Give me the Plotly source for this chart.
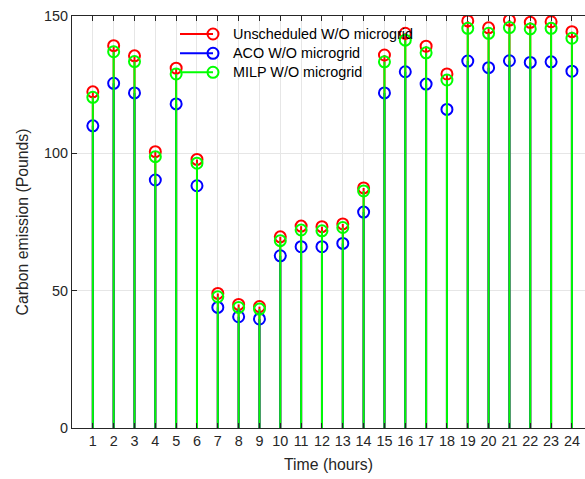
import plotly.graph_objects as go

hours = list(range(1, 25))
unscheduled = [122.4, 139.2, 135.5, 100.6, 131.0, 97.8, 49.0, 45.0, 44.2, 69.6, 73.5, 73.3,
               74.3, 87.4, 135.8, 143.7, 139.0, 128.9, 148.2, 145.7, 148.5, 147.7, 147.9, 144.3]
aco = [110.0, 125.5, 122.0, 90.3, 118.0, 88.2, 43.9, 40.5, 39.7, 62.7, 66.0, 66.0,
       67.2, 78.6, 122.0, 129.7, 125.2, 116.0, 133.6, 131.2, 133.7, 133.1, 133.3, 129.9]
milp = [120.4, 137.0, 133.4, 98.8, 128.9, 96.4, 47.8, 43.9, 43.3, 68.2, 72.1, 71.8,
        73.0, 86.3, 133.3, 141.2, 136.6, 126.7, 145.5, 143.7, 145.8, 145.3, 145.5, 141.9]

series = [
    ("Unscheduled W/O microgrid", unscheduled, "#ff0000"),
    ("ACO W/O microgrid", aco, "#0000ff"),
    ("MILP W/O microgrid", milp, "#00ff00"),
]

FONT = "Liberation Sans, Arial, Helvetica, sans-serif"

fig = go.Figure()
for name, vals, col in series:
    sx, sy = [], []
    for h, v in zip(hours, vals):
        sx += [h, h, None]
        sy += [0, v, None]
    fig.add_trace(go.Scatter(x=sx, y=sy, mode="lines", line=dict(color=col, width=2),
                             showlegend=False, hoverinfo="skip"))
    fig.add_trace(go.Scatter(x=hours, y=vals, mode="markers", name=name,
                             marker=dict(symbol="circle-open", size=11, color=col,
                                         line=dict(color=col, width=2)),
                             showlegend=False))

# MATLAB-style legend (line with marker at the end), no box
L, T, W, H = 72, 16, 513, 412
def px(xp):
    return (xp - L) / W
def py(yp):
    return (T + H - yp) / H

rows = [34, 53.3, 72.3]
shapes = []
annotations = []
for (name, vals, col), ry in zip(series, rows):
    shapes.append(dict(type="line", xref="paper", yref="paper",
                       x0=px(180), x1=px(213), y0=py(ry), y1=py(ry),
                       line=dict(color=col, width=2)))
    shapes.append(dict(type="circle", xref="paper", yref="paper",
                       xsizemode="pixel", ysizemode="pixel",
                       xanchor=px(213), yanchor=py(ry),
                       x0=-5.5, x1=5.5, y0=-5.5, y1=5.5,
                       line=dict(color=col, width=2), fillcolor="rgba(0,0,0,0)"))
    annotations.append(dict(xref="paper", yref="paper", x=px(231), y=py(ry),
                            xanchor="left", yanchor="middle", showarrow=False,
                            text=name, font=dict(family=FONT, size=14.4, color="#000000")))

fig.update_layout(
    width=585, height=479,
    margin=dict(l=L, r=0, t=T, b=479 - T - H),
    paper_bgcolor="white", plot_bgcolor="white",
    font=dict(family=FONT, size=14.4, color="#262626"),
    shapes=shapes, annotations=annotations,
    showlegend=False,
)
fig.update_xaxes(range=[0, 513 / 20.83], tickmode="array", tickvals=hours,
                 ticktext=[str(h) for h in hours],
                 showgrid=True, gridcolor="#e6e6e6", gridwidth=1,
                 showline=True, linecolor="#262626", linewidth=1, mirror="ticks",
                 ticks="inside", ticklen=5, tickcolor="#262626", zeroline=False,
                 title=dict(text="Time (hours)", font=dict(size=15.8, color="#262626"), standoff=10),
                 tickfont=dict(size=14.4))
fig.update_yaxes(range=[0, 150], tickvals=[0, 50, 100, 150],
                 showgrid=True, gridcolor="#e6e6e6", gridwidth=1,
                 showline=True, linecolor="#262626", linewidth=1,
                 ticks="inside", ticklen=5, tickcolor="#262626", zeroline=False,
                 title=dict(text="Carbon emission (Pounds)", font=dict(size=15.8, color="#262626"), standoff=11),
                 tickfont=dict(size=14.4))

fig.write_html("out.html")
